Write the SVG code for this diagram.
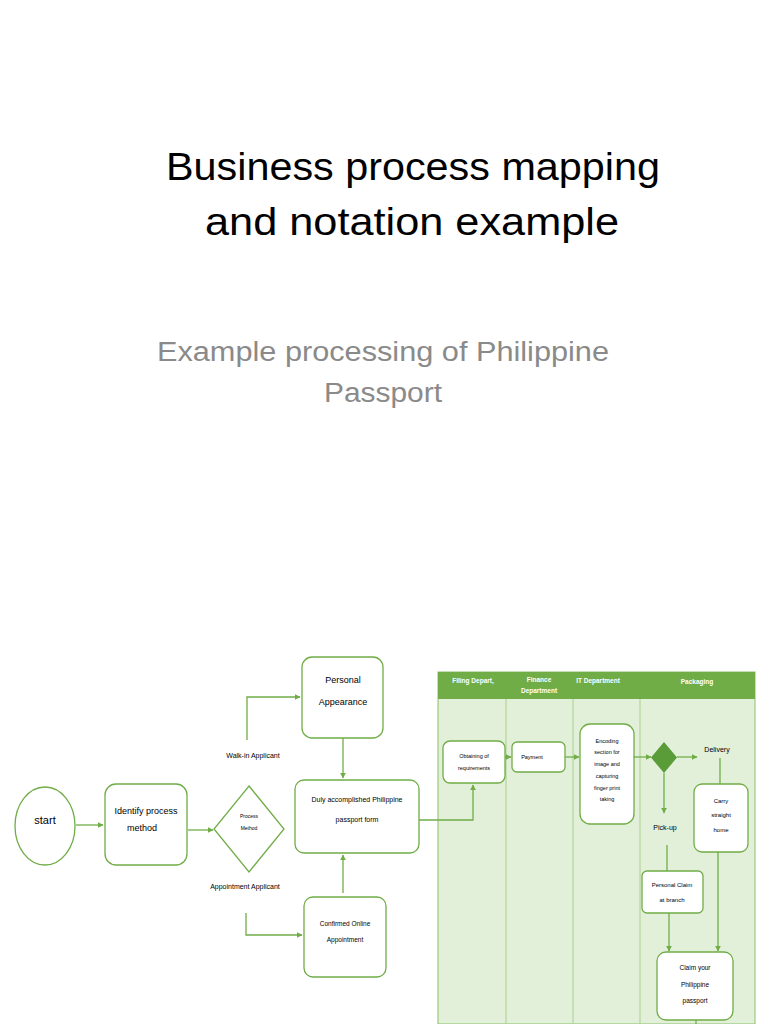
<svg xmlns="http://www.w3.org/2000/svg" width="768" height="1024" viewBox="0 0 768 1024">
<defs>
<marker id="ah" viewBox="0 0 10 10" refX="9" refY="5" markerWidth="6" markerHeight="6" orient="auto" markerUnits="userSpaceOnUse">
<path d="M0,0 L10,5 L0,10 z" fill="#70ad47"/>
</marker>
<style>
.t{font-family:"Liberation Sans",Arial,sans-serif;fill:#000;text-anchor:middle}
.box{fill:#fff;stroke:#70ad47;stroke-width:1.3}
.ln{fill:none;stroke:#70ad47;stroke-width:1.3}
.ar{fill:none;stroke:#70ad47;stroke-width:1.3;marker-end:url(#ah)}
.hd{font-family:"Liberation Sans",Arial,sans-serif;fill:#fff;font-size:6.5px;font-weight:bold;text-anchor:middle}
.s{font-size:7px}
.m{font-size:9px}
.l{font-size:11px}
</style>
</defs>
<rect width="768" height="1024" fill="#fff"/>
<g id="title">
<text class="t" x="413" y="180" font-size="38" textLength="494" lengthAdjust="spacingAndGlyphs">Business process mapping</text>
<text class="t" x="412" y="235" font-size="38" textLength="414" lengthAdjust="spacingAndGlyphs">and notation example</text>
</g>
<g id="subtitle">
<text class="t" x="383" y="361" font-size="27" style="fill:#8a8a8a" textLength="452" lengthAdjust="spacingAndGlyphs">Example processing of Philippine</text>
<text class="t" x="383" y="402" font-size="27" style="fill:#8a8a8a" textLength="118" lengthAdjust="spacingAndGlyphs">Passport</text>
</g>
<g id="swimlane">
<rect x="438" y="672" width="317" height="352" fill="#e2efd9" stroke="#8cc06a" stroke-width="1"/>
<rect x="438" y="672" width="317" height="27" fill="#70ad47"/>
<line x1="506" y1="699" x2="506" y2="1024" stroke="#a9d18e" stroke-width="1"/>
<line x1="573" y1="699" x2="573" y2="1024" stroke="#a9d18e" stroke-width="1"/>
<line x1="640" y1="699" x2="640" y2="1024" stroke="#a9d18e" stroke-width="1"/>
<text class="hd" x="473" y="683">Filing Depart,</text>
<text class="hd" x="539" y="682">Finance</text>
<text class="hd" x="539" y="693">Department</text>
<text class="hd" x="598" y="683">IT Department</text>
<text class="hd" x="697" y="684" font-size="7.5">Packaging</text>
</g>
<g id="connectors">
<line class="ar" x1="76" y1="825" x2="103" y2="825"/>
<line class="ar" x1="188" y1="830" x2="213" y2="830"/>
<polyline class="ar" points="247,740 247,697 300,697"/>
<polyline class="ar" points="246,913 246,935 302,935"/>
<line class="ar" x1="343" y1="738" x2="343" y2="778"/>
<line class="ar" x1="343" y1="893" x2="343" y2="855"/>
<polyline class="ar" points="419,820 473,820 473,785"/>
<line class="ar" x1="505" y1="757" x2="511" y2="757"/>
<line class="ar" x1="565" y1="757" x2="579" y2="757"/>
<line class="ar" x1="634" y1="757" x2="651" y2="757"/>
<line class="ar" x1="677" y1="757" x2="697" y2="757"/>
<line class="ar" x1="664" y1="773" x2="664" y2="813"/>
<line class="ln" x1="720" y1="758" x2="720" y2="784"/>
<line class="ln" x1="667" y1="845" x2="667" y2="871"/>
<line class="ar" x1="669" y1="913" x2="669" y2="951"/>
<line class="ar" x1="718" y1="852" x2="718" y2="951"/>
<line class="ln" x1="696" y1="1020" x2="696" y2="1024"/>
</g>
<g id="start">
<ellipse class="box" cx="45" cy="826" rx="30" ry="39"/>
<text class="t l" x="45" y="824">start</text>
</g>
<g id="identify">
<rect class="box" x="105" y="784" width="82" height="81" rx="11"/>
<text class="t m" x="146" y="814">Identify process</text>
<text class="t m" x="142" y="831">method</text>
</g>
<g id="decision">
<polygon class="box" points="249,786 284,829 249,872 214,829"/>
<text class="t" x="249" y="818" font-size="5">Process</text>
<text class="t" x="249" y="830" font-size="5">Method</text>
</g>
<g id="labels">
<text class="t s" x="253" y="758">Walk-in Applicant</text>
<text class="t s" x="245" y="889">Appointment Applicant</text>
<text class="t s" x="717" y="752">Delivery</text>
<text class="t s" x="665" y="830">Pick-up</text>
</g>
<g id="personal">
<rect class="box" x="302" y="657" width="81" height="81" rx="10"/>
<text class="t m" x="343" y="683">Personal</text>
<text class="t m" x="343" y="705">Appearance</text>
</g>
<g id="duly">
<rect class="box" x="295" y="780" width="124" height="73" rx="9"/>
<text class="t s" x="357" y="802">Duly accomplished Philippine</text>
<text class="t s" x="357" y="822">passport form</text>
</g>
<g id="confirmed">
<rect class="box" x="304" y="897" width="82" height="80" rx="9"/>
<text class="t" x="345" y="926" font-size="6.5">Confirmed Online</text>
<text class="t" x="345" y="942" font-size="6.5">Appointment</text>
</g>
<g id="obtaining">
<rect class="box" x="443" y="741" width="62" height="42" rx="7"/>
<text class="t" x="474" y="758" font-size="5.5">Obtaining of</text>
<text class="t" x="474" y="770" font-size="5.5">requirements</text>
</g>
<g id="payment">
<rect class="box" x="512" y="742" width="53" height="30" rx="5"/>
<text class="t" x="532" y="759" font-size="5.5">Payment</text>
</g>
<g id="encoding">
<rect class="box" x="580" y="724" width="54" height="100" rx="10"/>
<text class="t" x="607" y="743" font-size="5.5">Encoding</text>
<text class="t" x="607" y="754" font-size="5.5">section for</text>
<text class="t" x="607" y="766" font-size="5.5">image and</text>
<text class="t" x="607" y="778" font-size="5.5">capturing</text>
<text class="t" x="607" y="790" font-size="5.5">finger print</text>
<text class="t" x="607" y="801" font-size="5.5">taking</text>
</g>
<g id="gateway">
<polygon points="664,742 677,757.5 664,773 651,757.5" fill="#5a9c37"/>
</g>
<g id="carry">
<rect class="box" x="694" y="784" width="54" height="68" rx="8"/>
<text class="t" x="721" y="803" font-size="6">Carry</text>
<text class="t" x="721" y="817" font-size="6">straight</text>
<text class="t" x="721" y="832" font-size="6">home</text>
</g>
<g id="claimbranch">
<rect class="box" x="642" y="871" width="61" height="42" rx="5"/>
<text class="t" x="672" y="887" font-size="6">Personal Claim</text>
<text class="t" x="672" y="902" font-size="6">at branch</text>
</g>
<g id="claimpassport">
<rect class="box" x="657" y="952" width="76" height="68" rx="9"/>
<text class="t" x="695" y="970" font-size="6.5">Claim your</text>
<text class="t" x="695" y="987" font-size="6.5">Philippine</text>
<text class="t" x="695" y="1003" font-size="6.5">passport</text>
</g>
</svg>
